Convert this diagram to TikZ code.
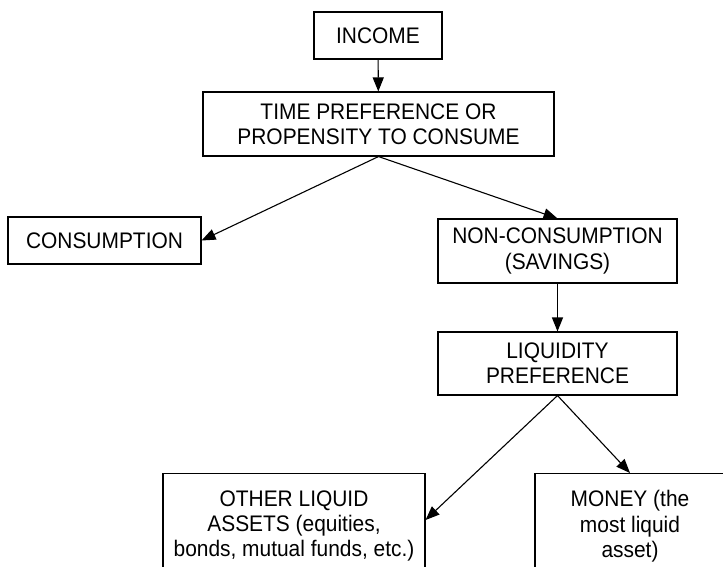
\documentclass[tikz,border=0pt]{standalone}
\usepackage{fontspec}
\setmainfont[FakeStretch=0.93]{Liberation Sans}
\usetikzlibrary{arrows.meta,calc}
\begin{document}
\begin{tikzpicture}[x=1pt,y=-1pt,
  box/.style={draw=black,line width=1.1pt,inner sep=0pt,align=center,
    font=\fontsize{22.5}{25.3}\selectfont},
  clipbox/.style={draw=black,line width=1.1pt,inner xsep=0pt,inner ysep=17pt,align=center,
    anchor=north,font=\fontsize{22.5}{25.3}\selectfont},
  conn/.style={line width=1.1pt,-{Triangle[length=14pt,width=11pt]}}]
\useasboundingbox (0,0) rectangle (723,566);
\clip (0,0) rectangle (723,566);
\node[box,minimum width=128,minimum height=47] (income) at (378,35.5) {INCOME};
\node[box,minimum width=351,minimum height=64] (timepref) at (378.5,124) {TIME PREFERENCE OR\\PROPENSITY TO CONSUME};
\node[box,minimum width=193,minimum height=47] (cons) at (104.5,240.5) {CONSUMPTION};
\node[box,minimum width=239,minimum height=64] (noncons) at (557.5,251) {NON-CONSUMPTION\\(SAVINGS)};
\node[box,minimum width=239,minimum height=63] (liq) at (557.5,363.5) {LIQUIDITY\\PREFERENCE};
\node[clipbox,minimum width=262] (other) at (294,473) {OTHER LIQUID\\ASSETS (equities,\\bonds, mutual funds, etc.)};
\node[clipbox,minimum width=190] (money) at (630,473) {MONEY (the\\most liquid\\asset)};
\draw[conn] (income) -- (timepref);
\draw[conn] (timepref.south) -- (cons.east);
\draw[conn] (timepref.south) -- (noncons.north);
\draw[conn] (noncons) -- (liq);
\draw[conn] (liq.south) -- ($(other.north east)+(0,47)$);
\draw[conn] (liq.south) -- (money.north);
\end{tikzpicture}
\end{document}
